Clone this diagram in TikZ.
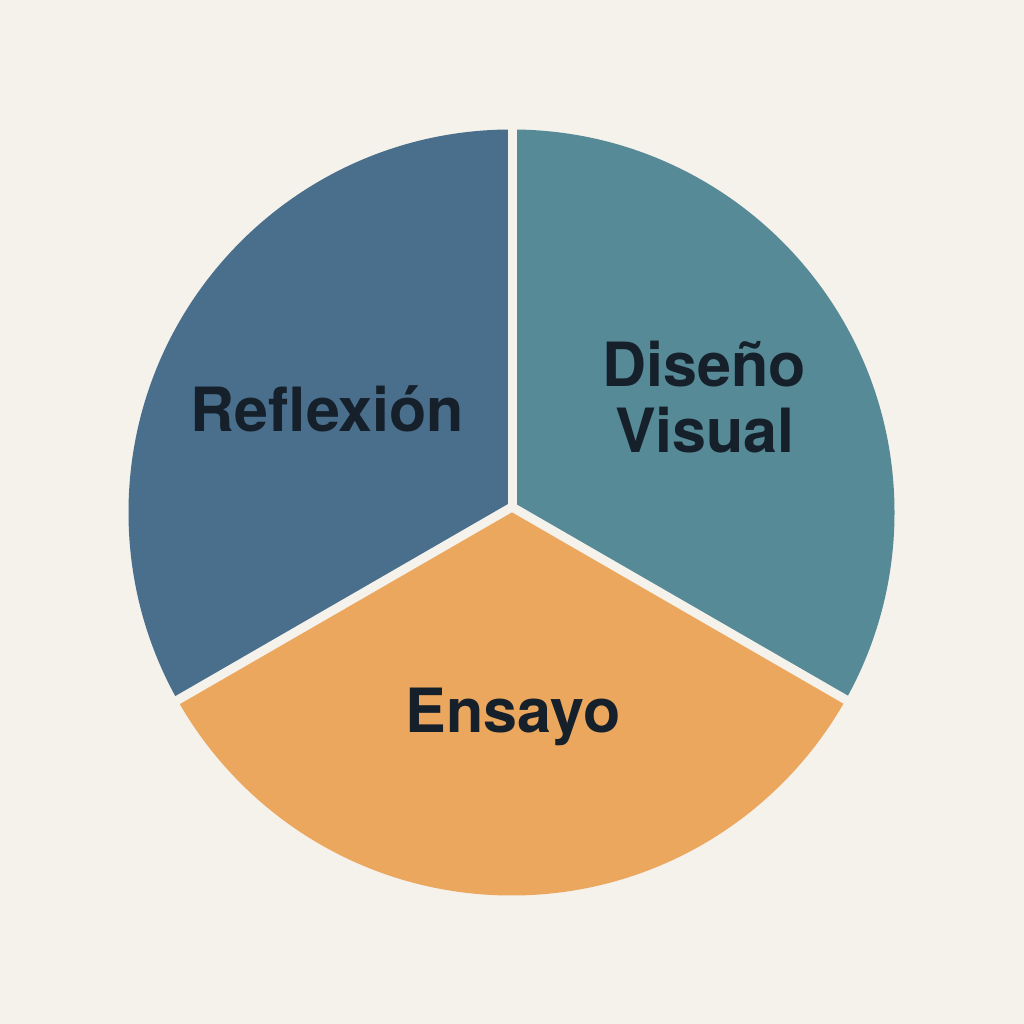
\documentclass[tikz,border=0pt]{standalone}
\usepackage{fontspec}
\usetikzlibrary{calc}
\setmainfont{TeX Gyre Heros}
\definecolor{bgc}{HTML}{F5F1EB}
\definecolor{blueS}{HTML}{4A6F8C}
\definecolor{tealS}{HTML}{578A97}
\definecolor{orangeS}{HTML}{ECA75F}
\definecolor{txt}{HTML}{15202B}
\tikzset{
  lbl/.style={text=txt, font=\fontsize{61}{72}\selectfont\bfseries, inner sep=0pt, anchor=base},
  gap/.style={draw=bgc, line width=9pt, line cap=butt}
}
\begin{document}
\begin{tikzpicture}[x=1pt,y=1pt]
\fill[bgc] (0,0) rectangle (1024,1024);
\useasboundingbox (0,0) rectangle (1024,1024);
\coordinate (C) at (511.5,511.5);
\coordinate (J) at (512,517);
\begin{scope}
  \clip (C) circle (383);
  \fill[blueS] (J) -- ++(90:800) -- ($(J)+(150:1000)$) -- ($(J)+(210:800)$) -- cycle;
  \fill[tealS] (J) -- ++(90:800) -- ($(J)+(30:1000)$) -- ($(J)+(330:800)$) -- cycle;
  \fill[orangeS] (J) -- ++(210:800) -- ($(J)+(270:1000)$) -- ($(J)+(330:800)$) -- cycle;
\end{scope}
\coordinate (E1) at ($(J)+(90:420)$);
\coordinate (E2) at ($(J)+(210:420)$);
\coordinate (E3) at ($(J)+(330:420)$);
\draw[gap] (J) -- (E1);
\draw[gap] (J) -- (E2);
\draw[gap] (J) -- (E3);
\fill[bgc] (J) circle (4.5);
\node[lbl] (refl) at (327.5,592) {Reflexión};
\node[lbl] (dis) at (704,637) {Diseño};
\node[lbl] (vis) at (705,571) {Visual};
\node[lbl] (ens) at (513,291) {Ensayo};
\end{tikzpicture}
\end{document}
